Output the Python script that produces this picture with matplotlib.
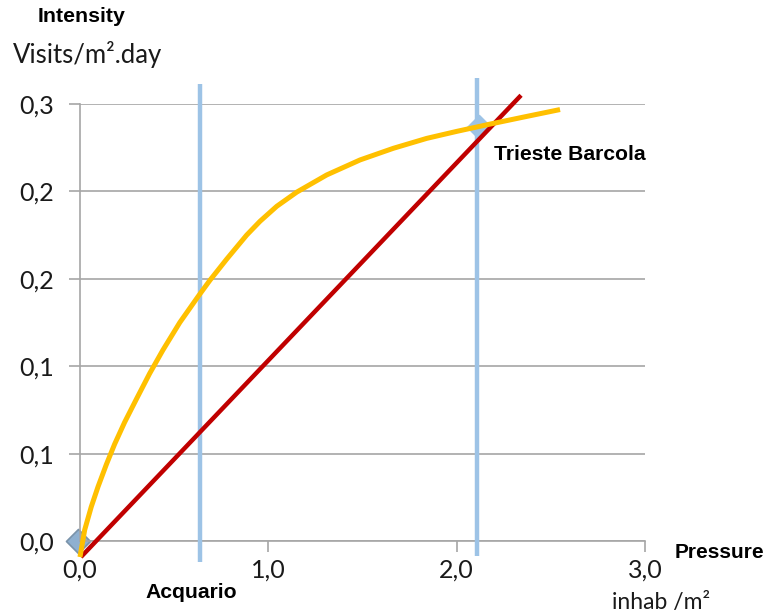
import matplotlib
matplotlib.use("Agg")
import matplotlib.pyplot as plt
from matplotlib.ticker import FixedLocator, FixedFormatter

# Data
x_ticks = [0.0, 1.0, 2.0, 3.0]
x_tick_labels = ["0,0", "1,0", "2,0", "3,0"]
y_ticks = [0.0, 0.06, 0.12, 0.18, 0.24, 0.30]
y_tick_labels = ["0,0", "0,1", "0,1", "0,2", "0,2", "0,3"]

# Yellow curve (intensity vs pressure)
curve_x = [0.000, 0.025, 0.060, 0.096, 0.140, 0.184, 0.237, 0.300, 0.370,
           0.440, 0.530, 0.628, 0.690, 0.779, 0.885, 0.956, 1.045, 1.151,
           1.310, 1.487, 1.664, 1.841, 2.000, 2.177, 2.354, 2.549]
curve_y = [-0.011, 0.0076, 0.0235, 0.0373, 0.0525, 0.0665, 0.0815, 0.0975,
           0.1150, 0.1310, 0.1500, 0.1680, 0.1790, 0.1935, 0.2100, 0.2195,
           0.2298, 0.2395, 0.2513, 0.2616, 0.2696, 0.2764, 0.2812, 0.2862,
           0.2910, 0.2962]

# Red straight line
line_x = [0.005, 2.342]
line_y = [-0.011, 0.306]

# Vertical markers for the two sites
site_x = [0.637, 2.108]
site_top = [0.314, 0.318]
site_bottom = [-0.0144, -0.0103]

# Diamond points
point_x = [-0.01, 2.12]
point_y = [0.0, 0.284]

fig = plt.figure(figsize=(7.66, 6.14), dpi=100)
ax = fig.add_axes([0.1044, 0.1189, 0.7376, 0.7117])

ax.set_xlim(0, 3)
ax.set_ylim(0, 0.3)

grid_col = "#A6A6A6"
for sp in ["top", "right"]:
    ax.spines[sp].set_visible(False)
for sp in ["left", "bottom"]:
    ax.spines[sp].set_color(grid_col)
    ax.spines[sp].set_linewidth(1.2)

ax.yaxis.set_major_locator(FixedLocator(y_ticks))
ax.yaxis.set_major_formatter(FixedFormatter(y_tick_labels))
ax.xaxis.set_major_locator(FixedLocator(x_ticks))
ax.xaxis.set_major_formatter(FixedFormatter(x_tick_labels))
ax.tick_params(axis="both", length=8, width=1.2, color=grid_col,
               labelsize=18, labelcolor="#1a1a1a")
ax.tick_params(axis="y", pad=11)
ax.tick_params(axis="x", pad=5)
for lab in ax.get_xticklabels() + ax.get_yticklabels():
    lab.set_family("Lato")

ax.grid(axis="y", color=grid_col, linewidth=1.2)
ax.set_axisbelow(True)

# diamonds
ax.scatter(point_x[:1], point_y[:1], marker="D", s=150, color="#8FB0D0",
           edgecolor="#7A93AA", linewidth=1.2, zorder=2, clip_on=False)
ax.scatter(point_x[1:], point_y[1:], marker="D", s=150, color="#9DC3E6",
           edgecolor="#9DC3E6", zorder=2, clip_on=False)

for sx, st, sb in zip(site_x, site_top, site_bottom):
    ax.plot([sx, sx], [sb, st], color="#9DC3E6", linewidth=3.2,
            zorder=3, clip_on=False, solid_capstyle="butt")

ax.plot(line_x, line_y, color="#C00000", linewidth=3.2, zorder=4,
        clip_on=False, solid_capstyle="butt")
ax.plot(curve_x, curve_y, color="#FFC000", linewidth=3.6, zorder=5,
        clip_on=False, solid_capstyle="butt", solid_joinstyle="round")

# labels
fig.text(38 / 766, 1 - 17 / 614, "Intensity", fontsize=15.3, fontweight="bold",
         family="Liberation Sans", va="center", ha="left")
fig.text(13 / 766, 1 - 55 / 614, "Visits/m\u00b2.day", fontsize=18.5,
         family="Lato", va="center", ha="left", color="#1a1a1a")
fig.text(675 / 766, 1 - 553 / 614, "Pressure", fontsize=15, fontweight="bold",
         family="Liberation Sans", va="center", ha="left")
fig.text(612 / 766, 1 - 602 / 614, "inhab /m\u00b2", fontsize=16.5,
         family="Lato", va="center", ha="left", color="#1a1a1a")
fig.text(145 / 766, 1 - 593 / 614, "Acquario", fontsize=15.2, fontweight="bold",
         family="Liberation Sans", va="center", ha="left")
fig.text(494 / 766, 1 - 155 / 614, "Trieste Barcola", fontsize=15.2,
         fontweight="bold", family="Liberation Sans", va="center", ha="left")

fig.savefig("out.png", dpi=100)
